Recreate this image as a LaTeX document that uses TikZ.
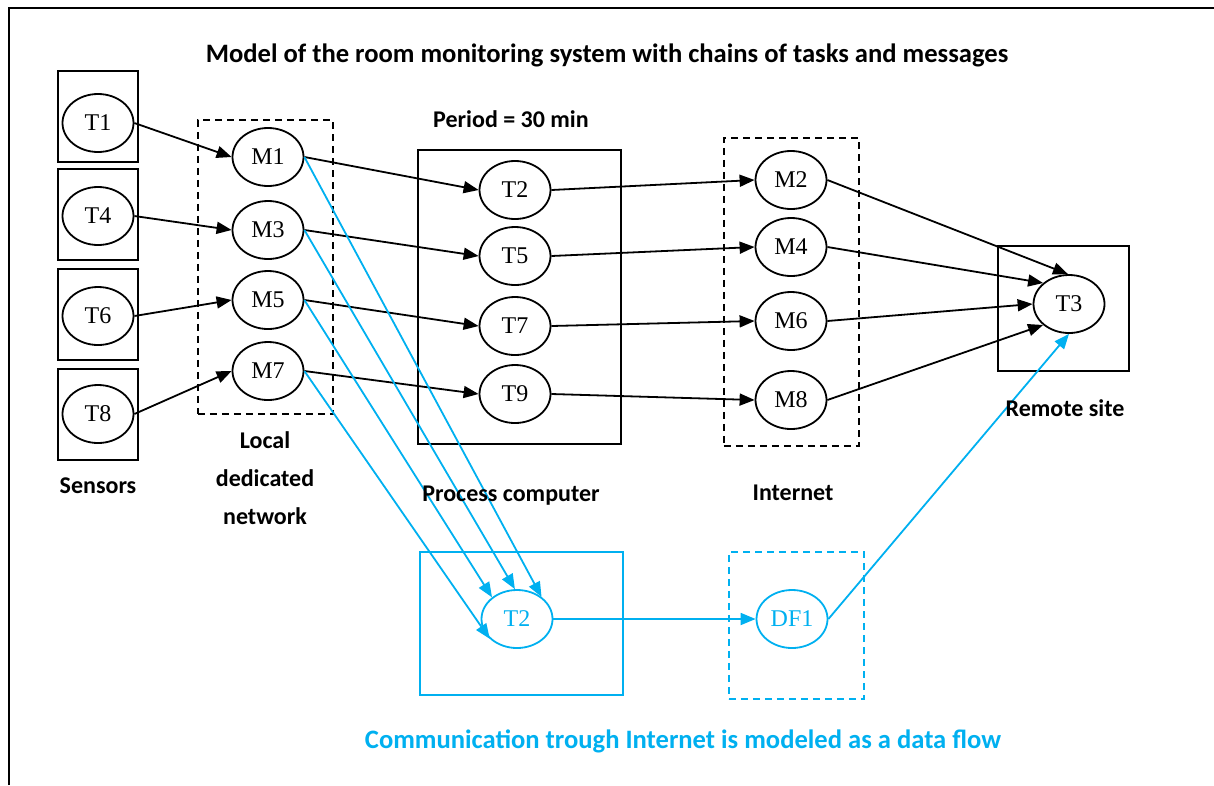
\documentclass[tikz,border=0pt]{standalone}
\usepackage{fontspec}
\setmainfont{Liberation Serif}
\newfontfamily\labelfont{Carlito}
\usetikzlibrary{arrows.meta,shapes.geometric}
\definecolor{flowblue}{HTML}{00B0F0}
\tikzset{
  task/.style={ellipse, draw, line width=1.8pt, minimum width=71pt, minimum height=58pt,
    inner sep=0pt, font=\fontsize{24}{26}\selectfont},
  frame/.style={draw, line width=1.8pt, inner sep=0pt, anchor=north west},
  dashframe/.style={frame, dash pattern=on 7pt off 5pt},
  link/.style={line width=1.8pt, -{Triangle[length=15pt,width=12pt]}},
  caption/.style={font=\labelfont\bfseries\fontsize{24}{26}\selectfont, anchor=base, inner sep=0pt},
  heading/.style={caption, font=\labelfont\bfseries\fontsize{26.6}{28}\selectfont},
}
\begin{document}
\begin{tikzpicture}[x=1pt,y=-1pt]
\useasboundingbox (0,0) rectangle (1214,785);
% page frame
\draw[line width=1.8pt] (9,785) coordinate (fb) -- (9,8) -- (1214,8) coordinate (fe);

% containers
\node[frame, minimum width=80pt, minimum height=91pt] (S1) at (57,70) {};
\node[frame, minimum width=80pt, minimum height=91pt] (S4) at (57,168) {};
\node[frame, minimum width=80pt, minimum height=91pt] (S6) at (57,268) {};
\node[frame, minimum width=80pt, minimum height=91pt] (S8) at (57,368) {};
\node[dashframe, minimum width=135pt, minimum height=294pt] (LAN) at (197,119) {};
\node[frame, minimum width=203pt, minimum height=294pt] (PC) at (417,149) {};
\node[dashframe, minimum width=135pt, minimum height=308pt] (NET) at (723,137) {};
\node[frame, minimum width=131pt, minimum height=125pt] (RS) at (997,245) {};
\node[frame, draw=flowblue, minimum width=203pt, minimum height=143pt] (PCb) at (419,551) {};
\node[dashframe, draw=flowblue, minimum width=135pt, minimum height=147pt] (NETb) at (728,551) {};

% tasks and messages
\node[task] (T1) at (98,123) {T1};
\node[task] (T4) at (98,216) {T4};
\node[task] (T6) at (98,316) {T6};
\node[task] (T8) at (98,414) {T8};
\node[task] (M1) at (268,157) {M1};
\node[task] (M3) at (268,230) {M3};
\node[task] (M5) at (268,300) {M5};
\node[task] (M7) at (268,371) {M7};
\node[task] (T2) at (515,190) {T2};
\node[task] (T5) at (515,256) {T5};
\node[task] (T7) at (515,326) {T7};
\node[task] (T9) at (515,394) {T9};
\node[task] (M2) at (791,180) {M2};
\node[task] (M4) at (791,247) {M4};
\node[task] (M6) at (791,321) {M6};
\node[task] (M8) at (791,400) {M8};
\node[task] (T3) at (1069,304) {T3};
\node[task, draw=flowblue, text=flowblue] (T2b) at (517,619) {T2};
\node[task, draw=flowblue, text=flowblue] (DF1) at (792,619) {DF1};

% message chains
\draw[link] (T1.east) -- (M1.west);
\draw[link] (T4.east) -- (M3.west);
\draw[link] (T6.east) -- (M5.west);
\draw[link] (T8.east) -- (M7.west);
\draw[link] (M1.east) -- (T2.west);
\draw[link] (M3.east) -- (T5.west);
\draw[link] (M5.east) -- (T7.west);
\draw[link] (M7.east) -- (T9.west);
\draw[link] (T2.east) -- (M2.west);
\draw[link] (T5.east) -- (M4.west);
\draw[link] (T7.east) -- (M6.west);
\draw[link] (T9.east) -- (M8.west);
\draw[link] (M2.east) -- (T3.92);
\draw[link] (M4.east) -- (T3.141);
\draw[link] (M6.east) -- (T3.west);
\draw[link] (M8.east) -- (T3.219);

% data flow
\begin{scope}[flowblue]
\draw[link] (M1.east) -- (T2b.42);
\draw[link] (M3.east) -- (T2b.94);
\draw[link] (M5.east) -- (T2b.139);
\draw[link] (M7.east) -- (T2b.216);
\draw[link] (T2b.east) -- (DF1.west);
\draw[link] (DF1.east) -- (T3.south);
\end{scope}

% captions
\node[heading] (title) at (607,62) {Model of the room monitoring system with chains of tasks and messages};
\node[caption] (period) at (511,127) {Period = 30 min};
\node[caption] (sens) at (98,493) {Sensors};
\node[caption] (loc1) at (265,448) {Local};
\node[caption] (loc2) at (265,486) {dedicated};
\node[caption] (loc3) at (265,524) {network};
\node[caption] (pcl) at (511,501) {Process computer};
\node[caption] (netl) at (793,500) {Internet};
\node[caption] (rsl) at (1065,416) {Remote site};
\node[heading, text=flowblue] (note) at (683,748) {Communication trough Internet is modeled as a data flow};
\end{tikzpicture}
\end{document}
